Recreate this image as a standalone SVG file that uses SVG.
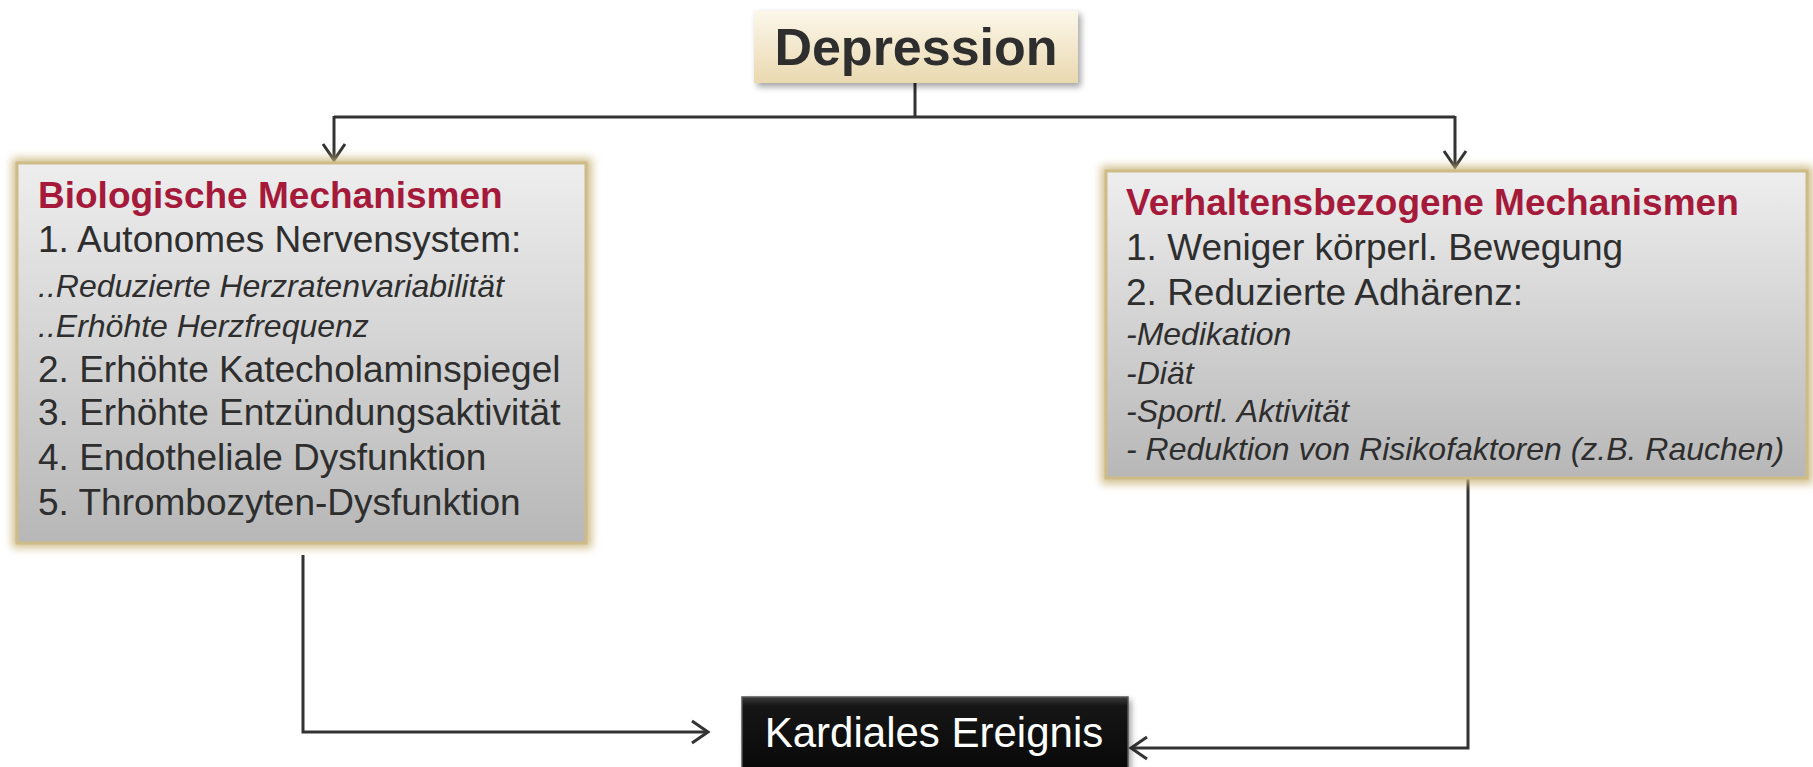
<svg xmlns="http://www.w3.org/2000/svg" width="1813" height="767" viewBox="0 0 1813 767">
<defs>
<style>
.t{font-family:"Liberation Sans",Arial,sans-serif;fill:#2e2e2e}
.r{font-size:37px}
.i{font-style:italic;font-size:32px}
.h{font-size:37px;font-weight:bold;fill:#a51a3b}
.c{fill:none;stroke:#333;stroke-width:3}
</style>
<linearGradient id="grey" x1="0" y1="0" x2="0" y2="1">
<stop offset="0" stop-color="#eeeeee"/>
<stop offset="1" stop-color="#b7b7b7"/>
</linearGradient>
<linearGradient id="cream" x1="0" y1="0" x2="0" y2="1">
<stop offset="0" stop-color="#fcf7ea"/>
<stop offset="1" stop-color="#ead9b0"/>
</linearGradient>
<linearGradient id="dark" x1="0" y1="0" x2="0" y2="1">
<stop offset="0" stop-color="#3c3c3c"/>
<stop offset="0.12" stop-color="#161616"/>
<stop offset="1" stop-color="#080808"/>
</linearGradient>
<filter id="glow" x="-10%" y="-10%" width="120%" height="120%">
<feGaussianBlur stdDeviation="4"/>
</filter>
<filter id="shadow" x="-10%" y="-20%" width="120%" height="150%">
<feGaussianBlur stdDeviation="3"/>
</filter>
<marker id="arr" viewBox="-3 -3 24 28" refX="16" refY="11" markerWidth="24" markerHeight="28" markerUnits="userSpaceOnUse" orient="auto">
<path d="M0,0 L16,11 L0,22" fill="none" stroke="#333" stroke-width="3"/>
</marker>
</defs>

<g id="connectors">
<polyline class="c" points="915,83 915,117"/>
<polyline class="c" points="334,117 1455,117"/>
<polyline class="c" points="334,116 334,160" marker-end="url(#arr)"/>
<polyline class="c" points="1455,116 1455,167" marker-end="url(#arr)"/>
<polyline class="c" points="303,555 303,732 708,732" marker-end="url(#arr)"/>
<polyline class="c" points="1468,478 1468,748 1131,748" marker-end="url(#arr)"/>
</g>

<g id="depression">
<rect x="757" y="14" width="324" height="73" fill="#000" opacity="0.35" filter="url(#shadow)"/>
<rect x="754" y="11" width="324" height="72" fill="url(#cream)"/>
<text class="t" x="916" y="65" font-size="52" font-weight="bold" text-anchor="middle" fill="#2b2b2b">Depression</text>
</g>

<g id="biologische">
<rect x="12" y="158" width="580" height="390" fill="#cbb57c" opacity="0.85" filter="url(#glow)"/>
<rect x="17" y="163" width="569" height="380" fill="url(#grey)" stroke="#cdbb88" stroke-width="3"/>
<text class="t h" x="38" y="208">Biologische Mechanismen</text>
<text class="t r" x="38" y="252">1. Autonomes Nervensystem:</text>
<text class="t i" x="38" y="297">..Reduzierte Herzratenvariabilität</text>
<text class="t i" x="38" y="337">..Erhöhte Herzfrequenz</text>
<text class="t r" x="38" y="382">2. Erhöhte Katecholaminspiegel</text>
<text class="t r" x="38" y="425">3. Erhöhte Entzündungsaktivität</text>
<text class="t r" x="38" y="470">4. Endotheliale Dysfunktion</text>
<text class="t r" x="38" y="515">5. Thrombozyten-Dysfunktion</text>
</g>

<g id="verhaltensbezogen">
<rect x="1101" y="166" width="712" height="318" fill="#cbb57c" opacity="0.85" filter="url(#glow)"/>
<rect x="1106" y="171" width="701" height="307" fill="url(#grey)" stroke="#cdbb88" stroke-width="3"/>
<text class="t h" x="1126" y="215">Verhaltensbezogene Mechanismen</text>
<text class="t r" x="1126" y="260">1. Weniger körperl. Bewegung</text>
<text class="t r" x="1126" y="305">2. Reduzierte Adhärenz:</text>
<text class="t i" x="1126" y="345">-Medikation</text>
<text class="t i" x="1126" y="384">-Diät</text>
<text class="t i" x="1126" y="422">-Sportl. Aktivität</text>
<text class="t i" x="1126" y="460">- Reduktion von Risikofaktoren (z.B. Rauchen)</text>
</g>

<g id="kardiales">
<rect x="745" y="700" width="386" height="75" fill="#000" opacity="0.4" filter="url(#shadow)"/>
<rect x="742" y="697" width="386" height="75" fill="url(#dark)" stroke="#555" stroke-width="1.5"/>
<text x="934" y="747" font-family="Liberation Sans, Arial, sans-serif" font-size="42" fill="#ffffff" text-anchor="middle">Kardiales Ereignis</text>
</g>
</svg>
